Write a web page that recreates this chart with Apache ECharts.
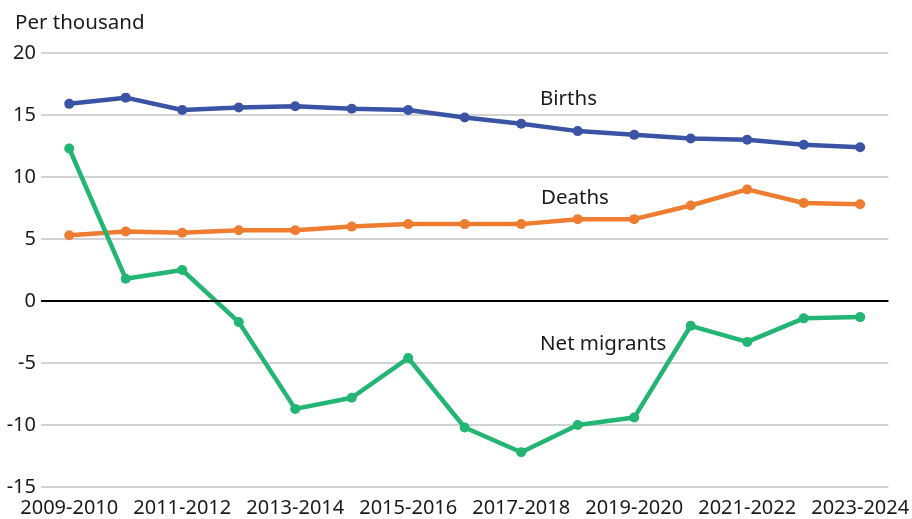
<!DOCTYPE html>
<html>
<head>
<meta charset="utf-8">
<script src="https://cdn.jsdelivr.net/npm/echarts@6/dist/echarts.min.js"></script>
<style>
  html, body { margin: 0; padding: 0; background: #fff; }
  #chart { width: 912px; height: 519px; }
</style>
</head>
<body>
<div id="chart"></div>
<script>
const years = ['2009-2010', '2010-2011', '2011-2012', '2012-2013', '2013-2014', '2014-2015', '2015-2016',
  '2016-2017', '2017-2018', '2018-2019', '2019-2020', '2020-2021', '2021-2022', '2022-2023', '2023-2024']
const births = [15.9, 16.4, 15.4, 15.6, 15.7, 15.5, 15.4, 14.8, 14.3, 13.7, 13.4, 13.1, 13.0, 12.6, 12.4]
const deaths = [5.3, 5.6, 5.5, 5.7, 5.7, 6.0, 6.2, 6.2, 6.2, 6.6, 6.6, 7.7, 9.0, 7.9, 7.8]
const netMigrants = [12.3, 1.8, 2.5, -1.7, -8.7, -7.8, -4.6, -10.2, -12.2, -10.0, -9.4, -2.0, -3.3, -1.4, -1.3]

const font = 'Noto Sans'
const textColor = '#1a1a1a'

const chart = echarts.init(document.getElementById('chart'))

const line = (name, data, color) => ({
  name: name,
  type: 'line',
  data: data,
  symbol: 'circle',
  symbolSize: 10,
  itemStyle: { color: color },
  lineStyle: { color: color, width: 4.5 },
  animation: false
})

const option = {
  backgroundColor: '#fff',
  textStyle: { fontFamily: font },
  title: {
    text: 'Per thousand',
    left: 10,
    top: 8,
    textStyle: { fontFamily: font, fontSize: 20.5, fontWeight: 'normal', color: textColor }
  },
  grid: { left: 41, right: 19, top: 53, bottom: 32 },
  xAxis: {
    type: 'category',
    data: years,
    boundaryGap: true,
    axisLine: { show: false },
    axisTick: { show: false },
    axisLabel: { interval: 1, fontSize: 20, color: textColor, fontFamily: font, margin: 11 }
  },
  yAxis: {
    type: 'value',
    min: -15,
    max: 20,
    interval: 5,
    axisLine: { show: false },
    axisTick: { show: false },
    axisLabel: { fontSize: 20, color: textColor, fontFamily: font, margin: 5 },
    splitLine: { lineStyle: { color: '#c4c4c4', width: 1.5 } }
  },
  graphic: [
    { type: 'text', left: 540, top: 89, style: { text: 'Births', font: '20.5px "Noto Sans"', fill: textColor } },
    { type: 'text', left: 541, top: 188, style: { text: 'Deaths', font: '20.5px "Noto Sans"', fill: textColor } },
    { type: 'text', left: 540, top: 334, style: { text: 'Net migrants', font: '20.5px "Noto Sans"', fill: textColor } }
  ],
  series: [
    Object.assign(line('Births', births, '#3a53a4'), {
      markLine: {
        silent: true,
        symbol: 'none',
        label: { show: false },
        lineStyle: { color: '#000', width: 2, type: 'solid' },
        data: [{ yAxis: 0 }],
        animation: false
      }
    }),
    line('Deaths', deaths, '#ee7d31'),
    line('Net migrants', netMigrants, '#22b573')
  ]
}

chart.setOption(option)
</script>
</body>
</html>
